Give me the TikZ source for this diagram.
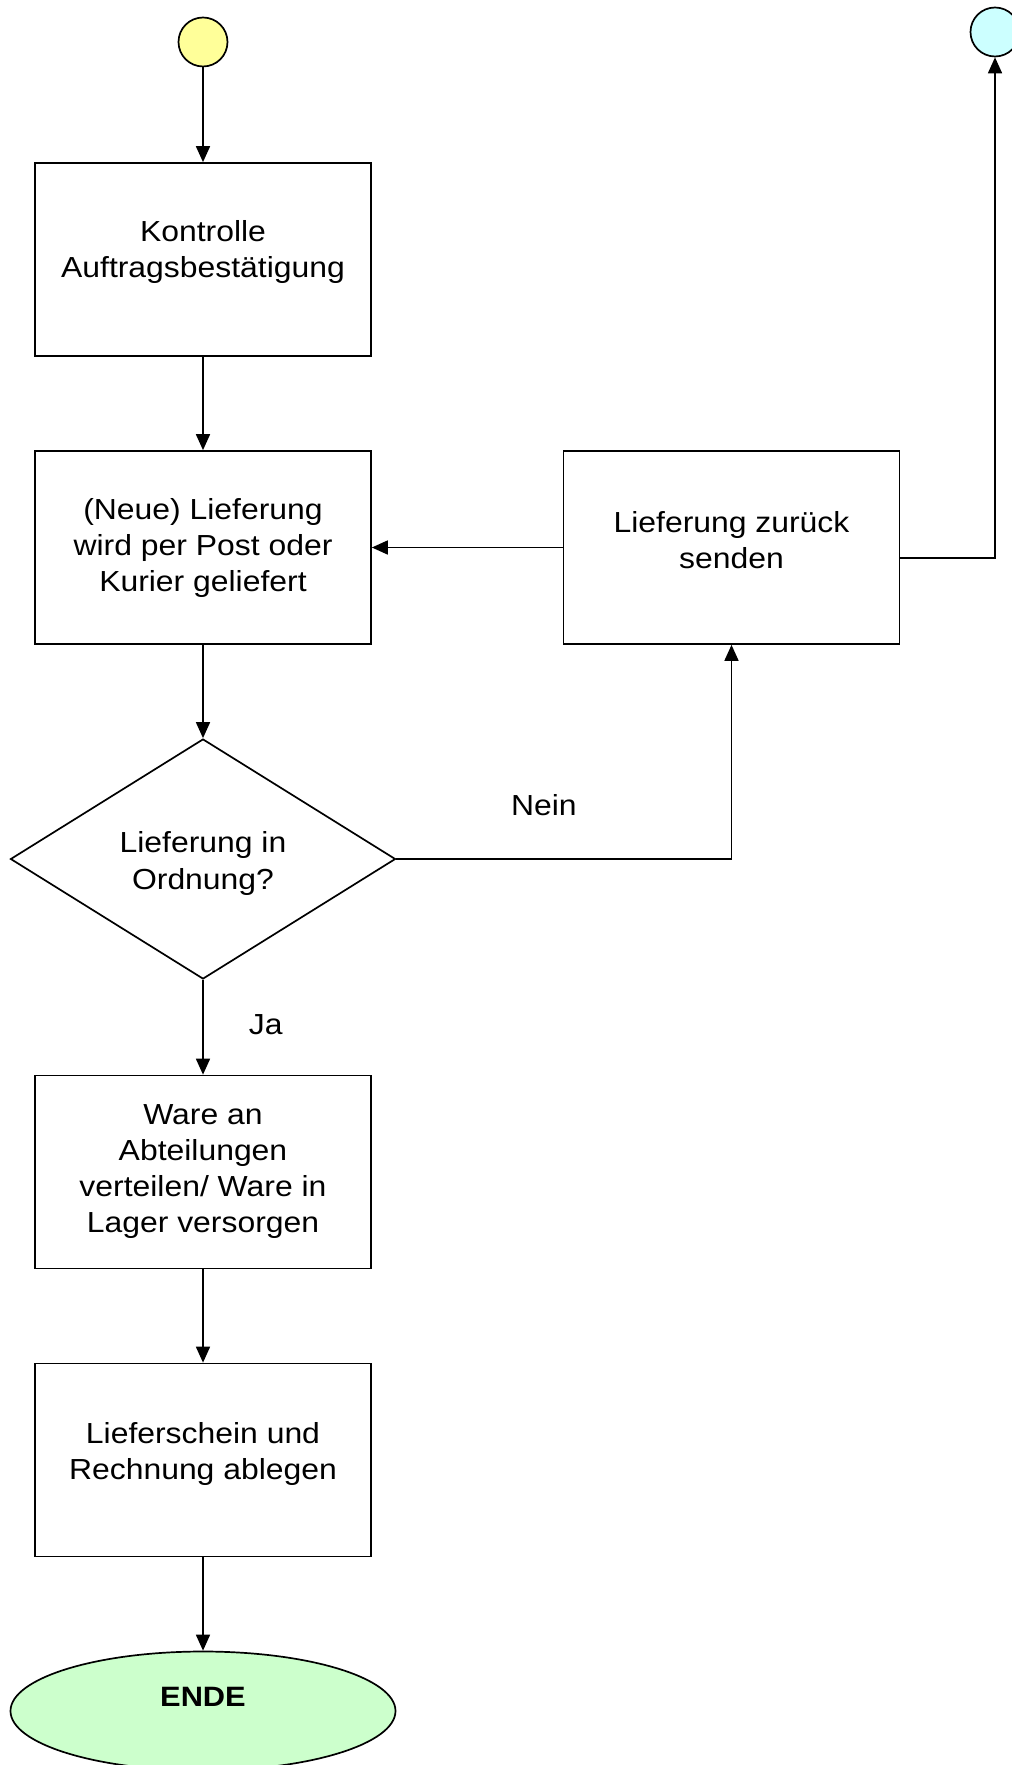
\documentclass[tikz,border=0pt]{standalone}
\usepackage{fontspec}
\setsansfont{Liberation Sans}[FakeStretch=1.1]
\usetikzlibrary{shapes.geometric,arrows.meta}
\definecolor{startyellow}{HTML}{FFFF99}
\definecolor{zielcyan}{HTML}{CCFFFF}
\definecolor{endegreen}{HTML}{CCFFCC}

\begin{document}
\begin{tikzpicture}[x=0.5pt,y=-0.5pt,>={Triangle[length=8pt,width=7pt]},font=\sffamily\fontsize{14.5}{18}\selectfont]
  \tikzstyle{box}=[draw, line width=0.85pt, minimum width=168pt, minimum height=96.5pt, align=center, inner sep=0pt]
  \tikzstyle{lift}=[text depth=#1]
  \tikzstyle{decision}=[diamond, draw, line width=0.85pt, minimum width=192.5pt, minimum height=120pt, align=center, inner sep=0pt]
  \tikzstyle{terminal}=[circle, draw, line width=0.85pt, minimum size=24.5pt, inner sep=0pt]
  \tikzstyle{flow}=[->, line width=0.85pt]
  \tikzstyle{caption}=[inner sep=0pt]

  \useasboundingbox (0,0) rectangle (1011,1765);

  \node[terminal, fill=startyellow] (start) at (203,42) {};
  \node[terminal, fill=zielcyan] (ziel) at (995,32) {};

  \node[box, lift=11pt] (kontrolle) at (203,259.5) {Kontrolle\\Auftragsbestätigung};
  \node[box] (lieferung) at (203,547.5) {(Neue) Lieferung\\wird per Post oder\\Kurier geliefert};
  \node[box, lift=8pt] (zurueck) at (731.5,547.5) {Lieferung zurück\\senden};
  \node[decision, text height=33pt] (pruefung) at (203,859) {Lieferung in\\Ordnung?};
  \node[box] (verteilen) at (203,1172) {Ware an\\Abteilungen\\verteilen/ Ware in\\Lager versorgen};
  \node[box, lift=9pt] (ablegen) at (203,1460) {Lieferschein und\\Rechnung ablegen};
  \node[ellipse, draw, line width=0.85pt, fill=endegreen, minimum width=192.5pt, minimum height=59.5pt,
        label={[font=\sffamily\bfseries\fontsize{14}{18}\selectfont, yshift=7pt]center:ENDE}] (ende) at (203,1711) {};

  \draw[flow] (start) -- (kontrolle);
  \draw[flow] (kontrolle) -- (lieferung);
  \draw[flow] (lieferung) -- (pruefung);
  \draw[flow] (pruefung) -- node[caption, anchor=west, xshift=22.5pt, yshift=1.5pt] {Ja} (verteilen);
  \draw[flow] (pruefung.east) -| node[caption, pos=0.22, yshift=27pt] {Nein} (zurueck.south);
  \draw[flow] (zurueck) -- (lieferung);
  \draw[flow] ([yshift=-5.25pt]zurueck.east) -| (ziel);
  \draw[flow] (verteilen) -- (ablegen);
  \draw[flow] (ablegen) -- (ende);
\end{tikzpicture}
\end{document}
